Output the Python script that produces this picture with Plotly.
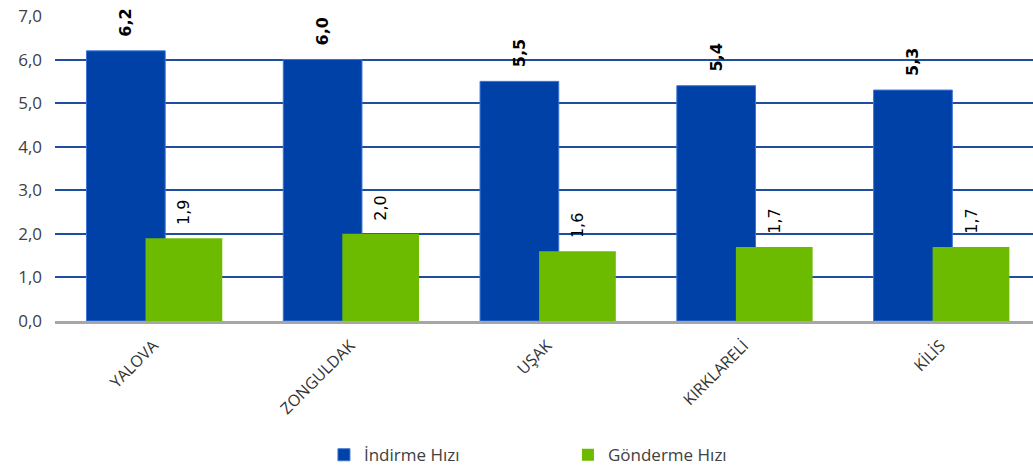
import plotly.graph_objects as go

# il isimleri ve hızlar (Mbps)
iller = ["YALOVA", "ZONGULDAK", "UŞAK", "KIRKLARELİ", "KİLİS"]
indirme = [6.2, 6.0, 5.5, 5.4, 5.3]
gonderme = [1.9, 2.0, 1.6, 1.7, 1.7]
y_ticks = [0, 1, 2, 3, 4, 5, 6, 7]

fig = go.Figure()

fig.add_trace(go.Bar(
    x=iller, y=indirme, name="İndirme Hızı",
    marker=dict(color="#0041A8", line=dict(color="#3D74D6", width=1)),
    offset=-0.34, width=0.40,
    text=["  " + f"{v:.1f}".replace(".", ",") for v in indirme],
    textposition="outside", textangle=-90, cliponaxis=False,
    textfont=dict(family="DejaVu Sans", size=16, color="#000000", weight="bold"),
))
fig.add_trace(go.Bar(
    x=iller, y=gonderme, name="Gönderme Hızı",
    marker=dict(color="#6CBB00", line=dict(width=0)),
    offset=-0.04, width=0.39,
    text=["  " + f"{v:.1f}".replace(".", ",") for v in gonderme],
    textposition="outside", textangle=-90, cliponaxis=False,
    textfont=dict(family="DejaVu Sans", size=16, color="#000000"),
))

fig.update_layout(
    width=1033, height=469,
    margin=dict(l=55, r=0, t=16, b=148, autoexpand=False),
    barmode="overlay",
    separators=",.",
    paper_bgcolor="white", plot_bgcolor="white",
    font=dict(family="Open Sans", color="#404040"),
    legend=dict(orientation="h", x=0.275, xanchor="left", y=-0.44, yanchor="middle",
                entrywidth=199, font=dict(size=17, color="#404040")),
    showlegend=True,
)
fig.update_xaxes(
    range=[-0.5, 4.47], tickangle=-45, tickfont=dict(size=16, color="#333333"),
    showline=True, linecolor="#A6A6A6", linewidth=3, showgrid=False,
    ticklabelstandoff=6, automargin=False,
)
fig.update_yaxes(
    range=[0, 7], tickvals=y_ticks, tickformat=".1f",
    tickfont=dict(size=17, color="#404040"),
    showgrid=True, gridcolor="#1F4E9E", gridwidth=2, zeroline=False,
    ticklabelstandoff=12, automargin=False,
)

fig.write_html("out.html", config={"displayModeBar": False},
               post_script="document.body.style.margin='0';")
